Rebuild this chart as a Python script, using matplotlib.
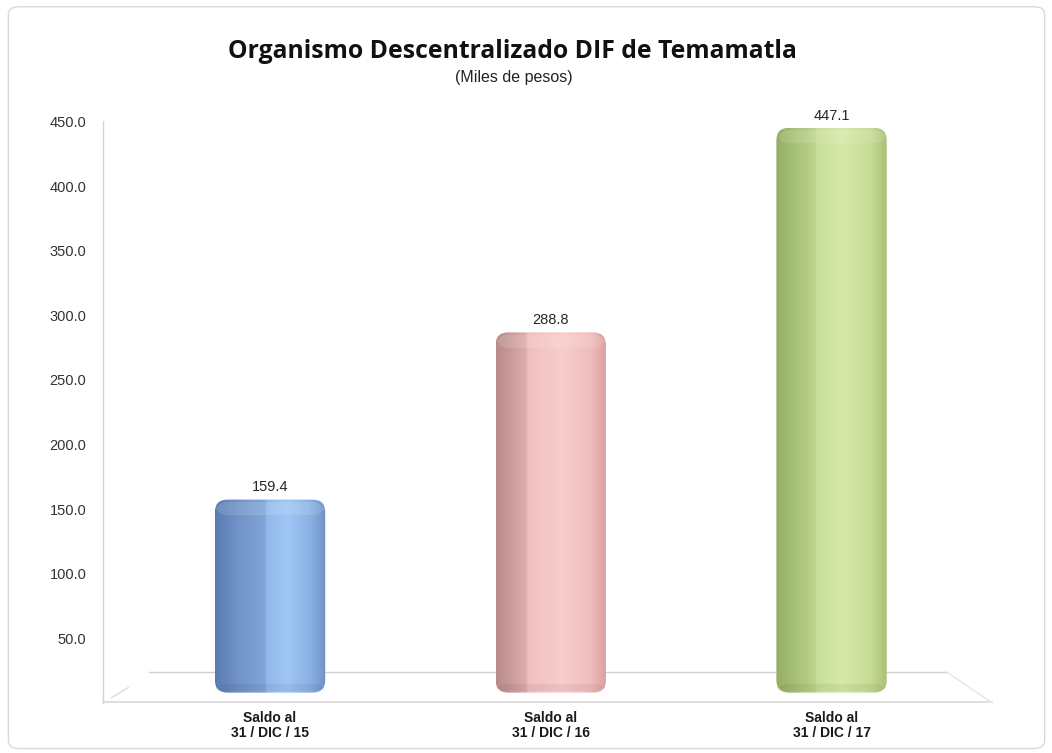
import matplotlib
matplotlib.use("Agg")
import matplotlib.pyplot as plt
import numpy as np
from matplotlib.patches import FancyBboxPatch
from matplotlib.colors import LinearSegmentedColormap

categories = ["Saldo al\n31 / DIC / 15", "Saldo al\n31 / DIC / 16", "Saldo al\n31 / DIC / 17"]
values = [159.4, 288.8, 447.1]
labels = ["159.4", "288.8", "447.1"]
yticks = [50, 100, 150, 200, 250, 300, 350, 400, 450]

grads = [
    [(0.0, "#5a7db0"), (0.2, "#7092c6"), (0.45, "#82a5d8"), (0.47, "#93b9ec"),
     (0.65, "#a0c6f4"), (0.85, "#8db3e6"), (1.0, "#6e92c6")],
    [(0.0, "#b88a8a"), (0.2, "#d4a3a3"), (0.27, "#deadad"), (0.29, "#f0c0c0"),
     (0.6, "#f9cdcd"), (0.85, "#f0bdbd"), (1.0, "#d9a0a0")],
    [(0.0, "#94ad64"), (0.2, "#aac47a"), (0.35, "#bcd48c"), (0.37, "#c8de98"),
     (0.6, "#d6e9a8"), (0.85, "#c7dc96"), (1.0, "#a9c276")],
]

XL = (-0.595, 2.605)

fig = plt.figure(figsize=(10.52, 7.53), dpi=100)
frame = FancyBboxPatch((0.008, 0.006), 0.985, 0.985, boxstyle="round,pad=0,rounding_size=0.01",
                       transform=fig.transFigure, facecolor="white", edgecolor="#d9d9d9", lw=1.0,
                       zorder=-10)
fig.add_artist(frame)

ax_l, ax_b, ax_w, ax_h = 0.0979, 0.0664, 0.854, 0.7895
ax = fig.add_axes([ax_l, ax_b, ax_w, ax_h])
ax.set_zorder(1)
ax.set_xlim(*XL)
ax.set_ylim(0, 460)
ax.patch.set_alpha(0)
for s in ax.spines.values():
    s.set_visible(False)
ax.plot([XL[0], XL[0]], [0, 450], color="#d4d4d4", lw=1, zorder=1, clip_on=False)

x = np.arange(len(categories))
bars = ax.bar(x, values, width=0.393, color="none", edgecolor="none")

upx_x = 3.2 / (ax_w * 1052)
upx_y = 460 / (ax_h * 753)
aspect = upx_y / upx_x

for b, g in zip(bars, grads):
    x0, y0 = b.get_x(), b.get_y()
    w, h = b.get_width(), b.get_height()
    fp = FancyBboxPatch((x0, y0 + 8), w, h - 10, boxstyle="round,pad=0,rounding_size=0.045",
                        mutation_aspect=aspect, facecolor="none", edgecolor="none")
    ax.add_patch(fp)
    cmap = LinearSegmentedColormap.from_list("g", g)
    grad = np.linspace(0, 1, 256).reshape(1, -1)
    im = ax.imshow(grad, extent=[x0, x0 + w, y0 + 8, y0 + h - 2], aspect="auto", cmap=cmap,
                   zorder=3, interpolation="bicubic")
    im.set_clip_path(fp)
    cap = FancyBboxPatch((x0 + 0.004, y0 + h - 14), w - 0.008, 10,
                         boxstyle="round,pad=0,rounding_size=0.04", mutation_aspect=aspect,
                         facecolor="white", alpha=0.12, edgecolor="none", zorder=4)
    ax.add_patch(cap)
    base = FancyBboxPatch((x0 + 0.004, y0 + 9), w - 0.008, 6,
                          boxstyle="round,pad=0,rounding_size=0.04", mutation_aspect=aspect,
                          facecolor="black", alpha=0.05, edgecolor="none", zorder=4)
    ax.add_patch(base)

for xi, v, lab in zip(x, values, labels):
    ax.text(xi, v + 2, lab, ha="center", va="bottom", fontsize=10.5,
            family="Liberation Sans", color="#262626", zorder=5)

# floor
ax.plot([-0.43, 2.41], [24, 24], color="#cfcfcf", lw=1, zorder=1, clip_on=False)
ax.plot([XL[0], 2.57], [0.5, 0.5], color="#d9d9d9", lw=1.2, zorder=1, clip_on=False)
ax.plot([-0.565, -0.505], [4, 12], color="#dcdcdc", lw=1, zorder=1, clip_on=False)
ax.plot([2.41, 2.57], [24, 0.5], color="#e6e6e6", lw=1, zorder=1, clip_on=False)

ax.set_xlim(*XL)
ax.set_ylim(0, 460)
ax.set_yticks(yticks)
ax.set_yticklabels([f"{t:.1f}" for t in yticks], family="Liberation Sans", fontsize=10.5,
                   color="#333333")
ax.tick_params(axis="y", length=0, pad=12)
ax.set_xticks(x)
ax.set_xticklabels(categories, family="Liberation Sans", fontsize=10, fontweight="bold",
                   color="#1a1a1a", linespacing=1.05)
ax.tick_params(axis="x", length=0, pad=6)

fig.text(0.487, 0.931, "Organismo Descentralizado DIF de Temamatla", ha="center", va="center",
         fontsize=17.8, fontweight="bold", family="Open Sans", color="#111111")
fig.text(0.488, 0.897, "(Miles de pesos)", ha="center", va="center",
         fontsize=11.5, family="Liberation Sans", color="#222222")

fig.savefig("out.png", dpi=100)
